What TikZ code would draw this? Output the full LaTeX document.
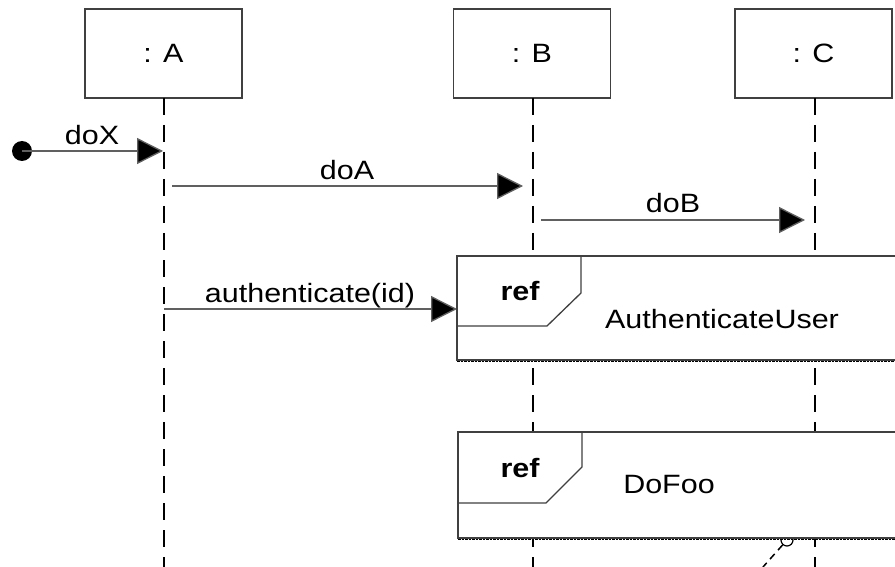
\documentclass[tikz,border=0pt]{standalone}
\usepackage{fontspec}
\setmainfont{Liberation Sans}[FakeStretch=1.15]
\usetikzlibrary{arrows.meta}
\definecolor{boxline}{HTML}{404040}
\definecolor{msgline}{HTML}{606060}
\tikzset{
  lifebox/.style={draw=boxline, line width=1.3pt, fill=white, minimum width=157pt, minimum height=89pt, inner sep=0pt, font=\fontsize{26.5}{30}\selectfont},
  lifeline/.style={draw=black, line width=2pt, dash pattern=on 17pt off 10pt},
  msg/.style={draw=msgline, line width=1.3pt, -{Triangle[length=26pt,width=26pt,fill=black]}},
  lbl/.style={anchor=base, inner sep=0pt, font=\fontsize{26.5}{30}\selectfont},
  refframe/.style={draw=boxline, line width=1.3pt, fill=white},
  reftab/.style={draw=boxline, line width=1.3pt},
  refbottom/.style={draw=black, line width=1.8pt, dash pattern=on 2.5pt off 1pt},
}
\begin{document}
\begin{tikzpicture}[x=1pt,y=-1pt]
\useasboundingbox (0,0) rectangle (895,567);
\clip (0,0) rectangle (895,567);
\fill[white] (0,0) rectangle (895,567);
% lifeline heads
\node[lifebox] (A) at (163.5,53.5) {: A};
\node[lifebox] (B) at (532,53.5) {: B};
\node[lifebox] (C) at (813.5,53.5) {: C};
% lifeline ends
\coordinate (Aend) at (164,567);
\coordinate (Bend) at (533,567);
\coordinate (Cend) at (815,567);
\draw[lifeline] (164,98) -- (Aend);
\draw[lifeline] (533,98) -- (Bend);
\draw[lifeline] (815,98) -- (Cend);
% messages
\node[circle, fill=black, minimum size=20pt, inner sep=0pt] (start) at (22,151) {};
\coordinate (doXe) at (163,151);
\draw[msg] (start.center) -- (doXe);
\node[lbl] (lx) at (92,145) {doX};
\coordinate (doAs) at (172,186);
\coordinate (doAe) at (523,186);
\draw[msg] (doAs) -- (doAe);
\node[lbl] (la) at (347,180) {doA};
\coordinate (doBs) at (541,220);
\coordinate (doBe) at (805,220);
\draw[msg] (doBs) -- (doBe);
\node[lbl] (lb) at (673,213) {doB};
\coordinate (auths) at (164,309);
\coordinate (authe) at (457,309);
\draw[msg] (auths) -- (authe);
\node[lbl] (lau) at (310,302) {authenticate(id)};
% note anchor fragment (partly hidden by the frame)
\node[circle, draw=black, line width=1.2pt, minimum size=12pt, inner sep=0pt] (anc) at (787,540) {};
\coordinate (ancend) at (763,567);
\draw[black, line width=1.5pt, dash pattern=on 7pt off 5pt] (anc) -- (ancend);
% ref 1
\path[refframe] (457,256) rectangle (910,360);
\draw[reftab] (457,256) -- (581,256) -- (581,293) -- (547,326) -- (457,326);
\draw[refbottom] (457,361.5) -- (910,361.5);
\node[lbl] (r1) at (520,300) {\bfseries ref};
\node[lbl] (r1t) at (722,328) {AuthenticateUser};
% ref 2
\path[refframe] (458,432) rectangle (910,538);
\draw[reftab] (582,432) -- (582,467) -- (546,503) -- (458,503);
\draw[refbottom] (458,539.5) -- (910,539.5);
\node[lbl] (r2) at (520,477) {\bfseries ref};
\node[lbl] (r2t) at (669,493) {DoFoo};
\end{tikzpicture}
\end{document}
